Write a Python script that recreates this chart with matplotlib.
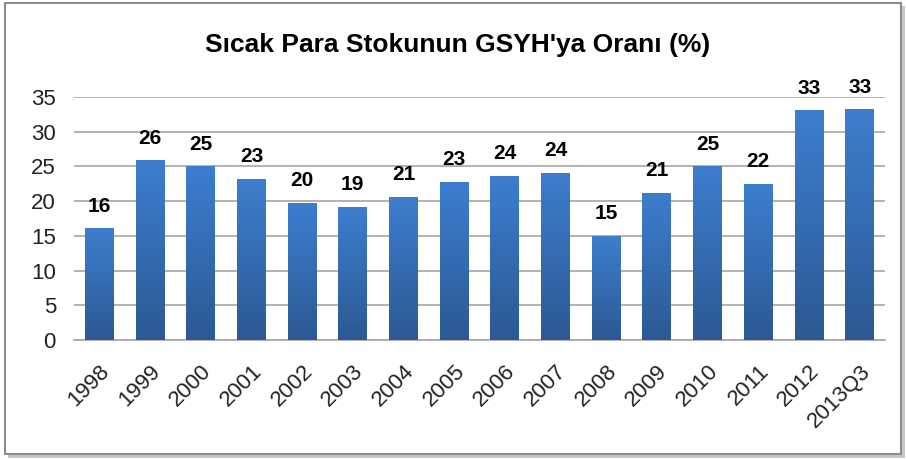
import matplotlib.pyplot as plt
import matplotlib.patches as patches
import numpy as np
from matplotlib.colors import LinearSegmentedColormap
from matplotlib import font_manager

years = ['1998', '1999', '2000', '2001', '2002', '2003', '2004', '2005',
         '2006', '2007', '2008', '2009', '2010', '2011', '2012', '2013Q3']
ratio = [16.1, 25.9, 25.0, 23.2, 19.8, 19.2, 20.6, 22.8,
         23.6, 24.1, 15.0, 21.2, 25.0, 22.5, 33.1, 33.2]
labels = ['16', '26', '25', '23', '20', '19', '21', '23',
          '24', '24', '15', '21', '25', '22', '33', '33']

names = {f.name for f in font_manager.fontManager.ttflist}
fam = 'Liberation Sans Narrow' if 'Liberation Sans Narrow' in names else 'Liberation Sans'
plt.rcParams['font.family'] = [fam, 'DejaVu Sans']

fig = plt.figure(figsize=(9.06, 4.59), dpi=100)
ax = fig.add_axes([74 / 906, 1 - 340 / 459, 811 / 906, 243 / 459])

# outer frame with a light shadow
fig.patches.append(patches.Rectangle((8 / 906, 1 - 458 / 459), 897 / 906, 452 / 459,
                                     transform=fig.transFigure, fc='#c8c8c8', ec='none', zorder=-2))
fig.patches.append(patches.Rectangle((5 / 906, 1 - 454 / 459), 896 / 906, 451 / 459,
                                     transform=fig.transFigure, fc='white', ec='#8c8c8c', lw=1.5, zorder=-1))

x = np.arange(len(years))
bars = ax.bar(x, ratio, width=0.57, color='none', zorder=3)

# vertical gradient inside every bar
cmap = LinearSegmentedColormap.from_list('g', ['#2c5993', '#3d7ecf'])
grad = np.linspace(0, 1, 256).reshape(-1, 1)
for b in bars:
    x0, w, h = b.get_x(), b.get_width(), b.get_height()
    im = ax.imshow(grad, cmap=cmap, origin='lower', aspect='auto',
                   extent=(x0, x0 + w, 0, h), zorder=3)
    im.set_clip_path(b)

for xi, v, lab in zip(x, ratio, labels):
    ax.annotate(lab, (xi, v), xytext=(0, 12), textcoords='offset points',
                ha='center', va='baseline', fontsize=15, fontweight='bold')

ax.set_xlim(-0.5, len(years) - 0.5)
ax.set_ylim(0, 35)
ax.set_yticks(range(0, 36, 5))
ax.set_xticks(x)
ax.set_xticklabels(years, rotation=45, ha='right', rotation_mode='anchor')
ax.tick_params(axis='both', length=0, labelsize=16, colors='#222222')
ax.tick_params(axis='y', pad=13)
ax.tick_params(axis='x', pad=15)
ax.grid(axis='y', color='#a6a6a6', lw=1.2, zorder=0)
for s in ['top', 'right', 'left']:
    ax.spines[s].set_visible(False)
ax.spines['bottom'].set_color('#a6a6a6')
ax.spines['bottom'].set_linewidth(1.2)
ax.patch.set_alpha(0)

fig.text(458 / 906, 1 - 45 / 459, "Sıcak Para Stokunun GSYH'ya Oranı (%)",
         ha='center', va='center', fontsize=19, fontweight='bold')

fig.savefig('out.png', dpi=100)
